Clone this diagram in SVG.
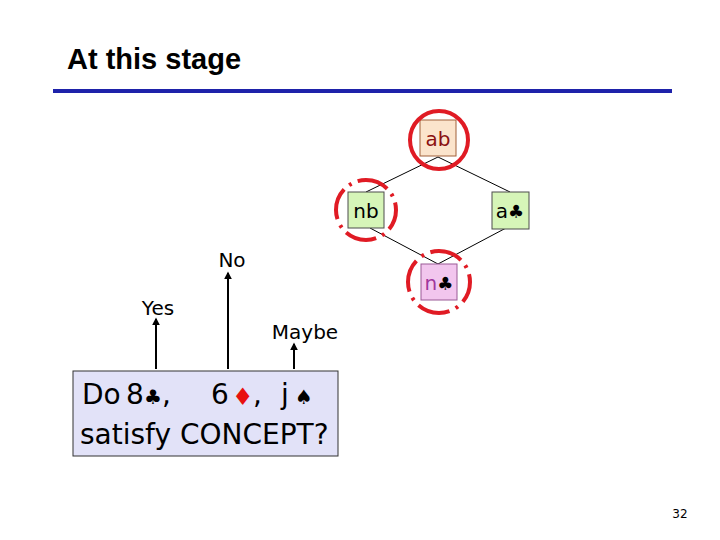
<svg xmlns="http://www.w3.org/2000/svg" width="720" height="540" viewBox="0 0 720 540">
<style>
.t{font-family:"DejaVu Sans","Liberation Sans",sans-serif;}
.node{font-family:"DejaVu Sans","Liberation Sans",sans-serif;font-size:20px;text-anchor:middle;}
.lbl{font-family:"DejaVu Sans","Liberation Sans",sans-serif;font-size:20px;fill:#000;text-anchor:middle;}
.edge{stroke:#000;stroke-width:1;fill:none;}
.arrow{stroke:#000;stroke-width:2;fill:none;marker-end:url(#ah);}
.ring{fill:none;stroke:#e01b24;stroke-width:4;}
.dash{stroke-dasharray:17 3.5 1.5 3.5;stroke-dashoffset:6;}
.green{fill:#d6f5b8;stroke:#4d4d4d;stroke-width:1;}
.suit{font-size:20px;}
</style>
<defs>
<marker id="ah" viewBox="0 0 10 10" refX="8" refY="5" markerWidth="4" markerHeight="4" orient="auto" markerUnits="strokeWidth">
<path d="M0,0 L10,5 L0,10 z" fill="#000"/>
</marker>
</defs>
<rect width="720" height="540" fill="#fff"/>
<g id="title">
<text x="67" y="69" style="font-family:'Liberation Sans',Arial,sans-serif;font-size:29px;font-weight:bold;">At this stage</text>
<rect x="53" y="89" width="619" height="4" fill="#1e22aa"/>
</g>
<g id="connectors">
<line class="edge" x1="438" y1="157" x2="366" y2="192"/>
<line class="edge" x1="438" y1="157" x2="510" y2="192"/>
<line class="edge" x1="370" y1="228" x2="438" y2="264"/>
<line class="edge" x1="506" y1="228" x2="438" y2="264"/>
<line class="arrow" x1="156" y1="369" x2="156" y2="319"/>
<line class="arrow" x1="228" y1="369" x2="228" y2="273"/>
<line class="arrow" x1="294" y1="369" x2="294" y2="344"/>
</g>
<g id="node-ab">
<rect x="420" y="120" width="36" height="36" fill="#fbe4cc" stroke="#a0603a" stroke-width="1"/>
<text class="node" x="438" y="146" fill="#8b1010">ab</text>
<circle class="ring" cx="439" cy="140" r="29"/>
</g>
<g id="node-nb">
<rect class="green" x="348" y="192" width="36" height="36"/>
<text class="node" x="366" y="218" fill="#000">nb</text>
<circle class="ring dash" cx="366" cy="210" r="30" pathLength="100"/>
</g>
<g id="node-aclub">
<rect class="green" x="492" y="192" width="37" height="37"/>
<text class="node" x="510" y="218" fill="#000">a<tspan style="font-size:18px">♣</tspan></text>
</g>
<g id="node-nclub">
<rect x="421" y="264" width="36" height="36" fill="#f2c6ee" stroke="#9a5a96" stroke-width="1"/>
<text class="node" x="439" y="290"><tspan fill="#a0369c">n</tspan><tspan fill="#000" style="font-size:18px">♣</tspan></text>
<circle class="ring dash" cx="439" cy="282" r="31" pathLength="100"/>
</g>
<g id="label-yes"><text class="lbl" x="158" y="315">Yes</text></g>
<g id="label-no"><text class="lbl" x="232" y="267">No</text></g>
<g id="label-maybe"><text class="lbl" x="305" y="339">Maybe</text></g>
<g id="question">
<rect x="73" y="371" width="265" height="85" fill="#e2e2f8" stroke="#333" stroke-width="1"/>
<text class="t" style="font-size:28px" fill="#000"><tspan x="82" y="404">Do</tspan><tspan x="126" y="404">8</tspan><tspan x="144" y="404" class="suit">♣</tspan><tspan x="162" y="404">,</tspan><tspan x="211" y="404">6</tspan><tspan x="232" y="405" style="font-size:24px" fill="#e81010">♦</tspan><tspan x="253" y="404">,</tspan><tspan x="281" y="404">j</tspan><tspan x="295" y="404" class="suit">♠</tspan></text>
<text class="t" x="80" y="444" style="font-size:28px" fill="#000">satisfy CONCEPT?</text>
</g>
<g id="page"><text x="680" y="518" style="font-family:'DejaVu Sans',sans-serif;font-size:12px;text-anchor:middle;">32</text></g>
</svg>
